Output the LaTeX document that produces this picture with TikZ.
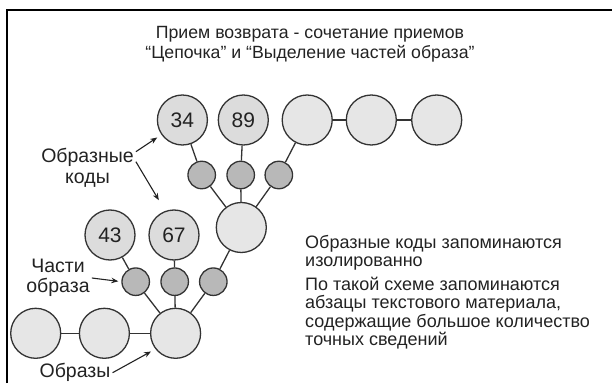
\documentclass[tikz,border=0pt]{standalone}
\usepackage{fontspec}
\setmainfont{Liberation Sans}
\usepackage{tikz}
\usetikzlibrary{arrows.meta}

\definecolor{edgegray}{HTML}{333333}
\definecolor{imgfill}{HTML}{E6E6E6}
\definecolor{codefill}{HTML}{DCDCDC}
\definecolor{partfill}{HTML}{B8B8B8}
\definecolor{textgray}{HTML}{222222}

\begin{document}
\begin{tikzpicture}[x=1pt, y=1pt,
    image/.style={circle, draw=edgegray, line width=1.3pt, fill=imgfill,
      minimum size=50pt, inner sep=0pt},
    code/.style={image, fill=codefill, text=textgray,
      font=\fontsize{21}{21}\selectfont},
    part/.style={circle, draw=edgegray, line width=1.3pt, fill=partfill,
      minimum size=27.5pt, inner sep=0pt},
    link/.style={draw=edgegray, line width=1.3pt},
    pointer/.style={->, >={Stealth[length=7pt, width=5.5pt]},
      line width=1.1pt, draw=textgray},
    label/.style={align=center, inner sep=2pt, text=textgray,
      font=\fontsize{19.5}{20.5}\selectfont},
    note/.style={align=left, inner sep=0pt, anchor=west, text=textgray,
      font=\fontsize{18}{18.3}\selectfont}]

    \useasboundingbox (0,0) rectangle (612,383);
    \draw [line width=2pt] (7,0) -- (7,372.7) -- (612,372.7);

    \node [align=center, anchor=north, inner sep=0pt, text=textgray,
      font=\fontsize{17.7}{20}\selectfont]
    (title) at (310,357) {Прием возврата - сочетание приемов\\
      “Цепочка” и “Выделение частей образа”};

    % upper chain
    \node [code] (n34) at (182.4,263) {34};
    \node [code] (n89) at (243.3,263) {89};
    \node [image] (c3) at (307.2,263) {};
    \node [image] (c4) at (371.3,263) {};
    \node [image] (c5) at (436.7,263) {};
    \node [part] (s1) at (201.7,208) {};
    \node [part] (s2) at (240.7,208) {};
    \node [part] (s3) at (278.8,208) {};
    \node [image] (r1) at (241.3,155.5) {};

    % lower chain
    \node [code] (n43) at (110,148) {43};
    \node [code] (n67) at (174,148) {67};
    \node [part] (t1) at (135.7,101.3) {};
    \node [part] (t2) at (174.7,101.3) {};
    \node [part] (t3) at (213.3,101.3) {};
    \node [image] (b1) at (35.7,49.7) {};
    \node [image] (b2) at (104.4,49.7) {};
    \node [image] (r2) at (175.6,49.7) {};

    \foreach \a/\b in {r1/s1, s1/n34, r1/s2, s2/n89, r1/s3, s3/c3,
      c3/c4, c4/c5, r2/t1, t1/n43, r2/t2, t2/n67, r2/t3, t3/r1,
      b1/b2, b2/r2}
      \draw [link] (\a) -- (\b);

    % labels
    \node [label] (lblcodes) at (87.5,215.3) {Образные\\коды};
    \node [label] (lblparts) at (58,105) {Части\\образа};
    \node [label] (lblimgs) at (75,10.3) {Образы};

    \draw [pointer, shorten >=5pt] ([yshift=16pt]lblcodes.east) -- (n34.215);
    \draw [pointer, shorten >=12.5pt] ([yshift=6pt]lblcodes.east) -- (n67.110);
    \draw [pointer, shorten >=3pt] (lblparts.east) -- (t1.west);
    \draw [pointer, shorten >=5pt] (lblimgs.east) -- (r2.218);

    \node [note] (note1) at (305,130.2)
    {Образные коды запоминаются\\изолированно};
    \node [note] (note2) at (305,70)
    {По такой схеме запоминаются\\абзацы текстового материала,\\
      содержащие большое количество\\точных сведений};
  \end{tikzpicture}
\end{document}
